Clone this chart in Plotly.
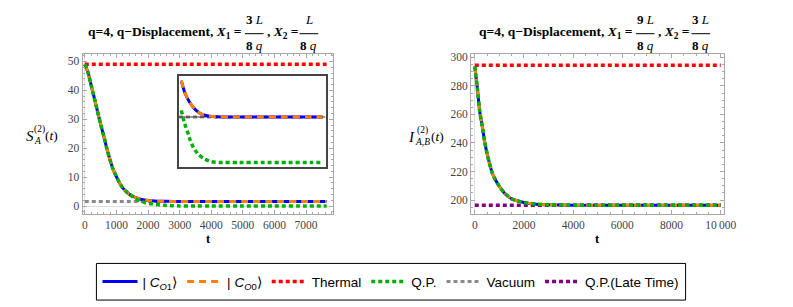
import plotly.graph_objects as go

# ---------------- data ----------------
# Left panel: S_A^(2)(t)
t_left = [0, 100, 200, 300, 400, 500, 600, 700, 800, 900, 1000, 1100, 1200, 1300, 1400,
          1500, 1600, 1800, 2000, 2300, 2600, 3000, 3500, 4000, 5000, 6000, 7000, 7650]
s_co1 = [49.0, 46.3, 41.8, 37.4, 32.8, 28.4, 24.2, 19.8, 15.9, 12.6, 10.2, 8.0, 6.3, 5.1, 4.2,
         3.5, 3.0, 2.3, 1.95, 1.72, 1.64, 1.6, 1.6, 1.6, 1.6, 1.6, 1.6, 1.6]
s_co0 = [49.0, 46.3, 41.8, 37.4, 32.8, 28.4, 24.2, 19.8, 15.9, 12.6, 10.2, 8.0, 6.3, 5.1, 4.2,
         3.5, 3.0, 2.3, 1.95, 1.72, 1.64, 1.6, 1.6, 1.6, 1.6, 1.6, 1.6, 1.6]
t_left_qp = [0, 100, 200, 300, 400, 500, 600, 700, 800, 900, 1000, 1100, 1200, 1300, 1400,
             1500, 1600, 1750, 1900, 2000, 2200, 2500, 2750, 3000, 3500, 4000, 5000, 6000, 7000, 7650]
s_qp = [49.0, 46.3, 41.8, 37.4, 32.8, 28.4, 24.2, 19.8, 15.9, 12.6, 10.2, 8.0, 6.3, 5.1, 4.2,
        3.4, 2.6, 1.8, 1.25, 1.0, 0.6, 0.3, 0.15, 0.06, 0.01, 0.0, 0.0, 0.0, 0.0, 0.0]
s_thermal = 49.0
s_vacuum = 1.6
t_left_span = [0, 7650]

# Inset (left panel, late times)
inset_t = [1693, 1830, 2032, 2298, 2568, 2838, 3104, 4000, 5000, 6000, 7000, 7470]
inset_co1 = [2.88, 2.47, 2.12, 1.83, 1.68, 1.63, 1.61, 1.6, 1.6, 1.6, 1.6, 1.6]
inset_co0 = [2.88, 2.47, 2.12, 1.83, 1.68, 1.63, 1.61, 1.6, 1.6, 1.6, 1.6, 1.6]
inset_t_qp = [1693, 1830, 1963, 2055, 2192, 2406, 2636, 2902, 3240, 4000, 5000, 6000, 7000, 7470]
inset_qp = [1.83, 1.37, 1.04, 0.79, 0.52, 0.27, 0.13, 0.03, 0.0, 0.0, 0.0, 0.0, 0.0, 0.0]
inset_span = [1600, 7600]

# Right panel: I_{A,B}^(2)(t)
t_right = [0, 100, 200, 300, 400, 500, 600, 700, 800, 1000, 1200, 1500, 2000, 2500, 3000,
           4000, 5000, 6000, 7000, 8000, 9000, 10000]
i_co1 = [293.5, 279.0, 262.0, 252.0, 241.0, 232.5, 225.5, 219.5, 215.5, 209.5, 205.0, 200.8,
         198.3, 197.1, 196.7, 196.45, 196.4, 196.4, 196.4, 196.4, 196.4, 196.4]
i_co0 = [293.5, 279.0, 262.0, 252.0, 241.0, 232.5, 225.5, 219.5, 215.5, 209.5, 205.0, 200.8,
         198.3, 197.1, 196.7, 196.45, 196.4, 196.4, 196.4, 196.4, 196.4, 196.4]
i_qp = [293.5, 279.0, 262.0, 252.0, 241.0, 232.5, 225.5, 219.5, 215.5, 209.5, 205.0, 200.8,
        198.3, 197.1, 196.7, 196.45, 196.4, 196.4, 196.4, 196.4, 196.4, 196.4]
i_thermal = 294.5
i_qp_late = 196.3
t_right_span = [0, 10000]

left_xticks = [0, 1000, 2000, 3000, 4000, 5000, 6000, 7000]
left_yticks = [0, 10, 20, 30, 40, 50]
right_xticks = [0, 2000, 4000, 6000, 8000, 10000]
right_xticktext = ["0", "2000", "4000", "6000", "8000", "10\u2009000"]
right_yticks = [200, 220, 240, 260, 280, 300]

names = ["| <i>C</i><sub><i>O</i>1</sub>\u27e9", "| <i>C</i><sub><i>O</i>0</sub>\u27e9",
         "Thermal", "Q.P.", "Vacuum", "Q.P.(Late Time)"]

# ---------------- styles ----------------
BLUE = "#0000ff"
ORANGE = "#ff8000"
RED = "#ff0000"
GREEN = "#00b000"
GREY = "#8a8a8a"
PURPLE = "#800080"
DOT = "4px,3px"
SERIF = "Liberation Serif"
SANS = "Liberation Sans"

W, H = 793, 307


def px(x):
    return x / W


def py(y):
    return 1 - y / H


fig = go.Figure()


def add(x, y, name, color, width, dash, xa, ya, show, rank):
    fig.add_trace(go.Scatter(x=x, y=y, mode="lines", name=name,
                             line=dict(color=color, width=width, dash=dash, shape="spline", smoothing=0.5),
                             xaxis=xa, yaxis=ya, showlegend=show, legendrank=rank, hoverinfo="skip"))


# left panel
add(t_left_span, [s_vacuum] * 2, names[4], GREY, 3, DOT, "x", "y", True, 5)
add(t_left_span, [s_thermal] * 2, names[2], RED, 3.5, DOT, "x", "y", True, 3)
add(t_left, s_co1, names[0], BLUE, 3, "solid", "x", "y", True, 1)
add(t_left, s_co0, names[1], ORANGE, 3, "7px,5px", "x", "y", True, 2)
add(t_left_qp, s_qp, names[3], GREEN, 3.5, DOT, "x", "y", True, 4)

# inset
add(inset_span, [s_vacuum] * 2, names[4], GREY, 3, DOT, "x3", "y3", False, 5)
add(inset_span, [s_vacuum] * 2, "axis", "#333333", 1, "solid", "x3", "y3", False, 9)
add(inset_t, inset_co1, names[0], BLUE, 3, "solid", "x3", "y3", False, 1)
add(inset_t, inset_co0, names[1], ORANGE, 3, "7px,5px", "x3", "y3", False, 2)
add(inset_t_qp, inset_qp, names[3], GREEN, 3.5, DOT, "x3", "y3", False, 4)

# right panel
add(t_right_span, [i_thermal] * 2, names[2], RED, 3.5, DOT, "x2", "y2", False, 3)
add(t_right_span, [i_qp_late] * 2, names[5], PURPLE, 3.5, DOT, "x2", "y2", True, 6)
add(t_right, i_co1, names[0], BLUE, 3, "solid", "x2", "y2", False, 1)
add(t_right, i_co0, names[1], ORANGE, 3, "7px,5px", "x2", "y2", False, 2)
add(t_right, i_qp, names[3], GREEN, 3.5, DOT, "x2", "y2", False, 4)

FRAME = "#a8a8a8"
TICKFONT = dict(family=SERIF, size=11.5, color="#444444")


def frame_axis(**kw):
    d = dict(showline=True, mirror="allticks", linecolor=FRAME, linewidth=1,
             ticks="inside", ticklen=4, tickcolor=FRAME, tickwidth=1,
             showgrid=False, tickfont=TICKFONT, zeroline=True, zerolinecolor="#dddddd",
             zerolinewidth=1, fixedrange=True)
    d.update(kw)
    return d


ydom = [py(213), py(52)]
fig.update_layout(
    width=W, height=H,
    margin=dict(l=0, r=0, t=0, b=0),
    paper_bgcolor="white", plot_bgcolor="white",
    xaxis=frame_axis(domain=[px(83), px(338)], anchor="y", range=[-68, 7866],
                     tickvals=left_xticks, minor=dict(ticks="inside", ticklen=2, dtick=200, tickcolor=FRAME)),
    yaxis=frame_axis(domain=ydom, anchor="x", range=[-2.7, 52.4],
                     tickvals=left_yticks, minor=dict(ticks="inside", ticklen=2, dtick=2, tickcolor=FRAME)),
    xaxis2=frame_axis(domain=[px(478), px(735)], anchor="y2", range=[-148, 10132],
                      tickvals=right_xticks, ticktext=right_xticktext,
                      minor=dict(ticks="inside", ticklen=2, dtick=500, tickcolor=FRAME)),
    yaxis2=frame_axis(domain=ydom, anchor="x2", range=[190.3, 302],
                      tickvals=right_yticks, minor=dict(ticks="inside", ticklen=2, dtick=5, tickcolor=FRAME),
                      zeroline=False),
    xaxis3=dict(domain=[px(181), px(330)], anchor="y3", range=inset_span,
                showline=True, mirror=True, linecolor="#444444", linewidth=1.5,
                showticklabels=False, ticks="", showgrid=False, zeroline=False, fixedrange=True),
    yaxis3=dict(domain=[py(166), py(74)], anchor="x3", range=[-0.17, 3.03],
                showline=True, mirror=True, linecolor="#444444", linewidth=1.5,
                showticklabels=False, ticks="", showgrid=False, zeroline=False, fixedrange=True),
    legend=dict(orientation="h", x=px(396.5), y=py(281.5), xanchor="center", yanchor="middle",
                borderwidth=0, bgcolor="rgba(0,0,0,0)", itemwidth=35,
                font=dict(family=SANS, size=13.5, color="black"),
                traceorder="normal"),
    showlegend=True,
)

annotations = []
shapes = [dict(type="rect", xref="paper", yref="paper", x0=px(97), x1=px(696), y0=py(300), y1=py(263),
               line=dict(color="black", width=1), layer="below")]


def ann(text, x, y, xanchor="center", size=12, yanchor="middle"):
    annotations.append(dict(text=text, x=px(x), y=py(y), xref="paper", yref="paper",
                            xanchor=xanchor, yanchor=yanchor, showarrow=False,
                            font=dict(family=SERIF, size=size, color="black")))


def bar(x0, x1, y):
    shapes.append(dict(type="line", xref="paper", yref="paper", x0=px(x0), x1=px(x1),
                       y0=py(y), y1=py(y), line=dict(color="black", width=1)))


def title(x_eq_end, f1_center, f1_num, f1_den, x2_start, f2_center, f2_num, f2_den):
    ann("<b>q=4, q\u2212Displacement, <i>X</i><sub>1</sub> =</b>", x_eq_end, 30, xanchor="right", size=13.5)
    ann(f1_num, f1_center, 17, size=13)
    bar(f1_center - 9.5, f1_center + 9.5, 31)
    ann(f1_den, f1_center, 43, size=13)
    ann("<b>, <i>X</i><sub>2</sub> =</b>", x2_start, 30, xanchor="left", size=13.5)
    ann(f2_num, f2_center, 17, size=13)
    bar(f2_center - 9.5, f2_center + 9.5, 31)
    ann(f2_den, f2_center, 43, size=13)


title(246, 257.5, "<b>3</b> <i>L</i>", "<b>8</b> <i>q</i>", 268, 313, "<i>L</i>", "<b>8</b> <i>q</i>")
title(644, 655, "<b>9</b> <i>L</i>", "<b>8</b> <i>q</i>", 666, 711.5, "<b>3</b> <i>L</i>", "<b>8</b> <i>q</i>")

# x-axis titles
ann("<b>t</b>", 210.5, 238, size=12.5)
ann("<b>t</b>", 606.5, 238, size=12.5)

# y-axis labels
ann("<i>S</i>", 29, 134, size=15)
ann("(2)", 39, 128, size=9.5)
ann("<i>A</i>", 37, 139, size=9.5)
ann("(<i>t</i>)", 51, 134, size=13.5)

ann("<i>I</i>", 417, 135, size=15)
ann("(2)", 429, 129, size=9.5)
ann("<i>A</i>,<i>B</i>", 429, 140, size=9.5)
ann("(<i>t</i>)", 444, 135, size=13.5)

fig.update_layout(annotations=annotations, shapes=shapes)

fig.write_html("out.html", config={"displayModeBar": False},
               post_script="document.body.style.margin='0';")
